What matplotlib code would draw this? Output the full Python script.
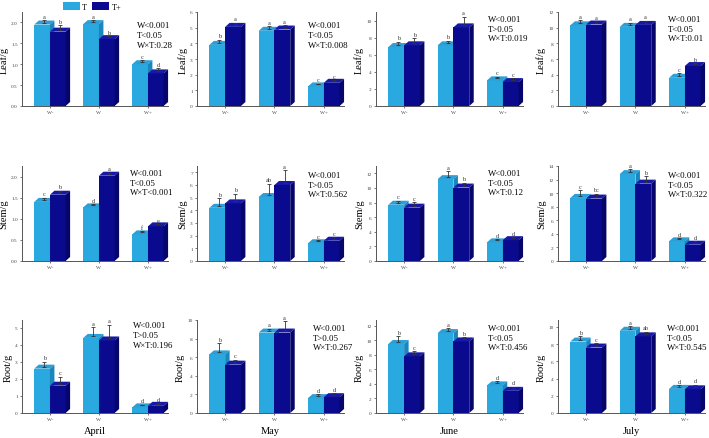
import matplotlib
matplotlib.use("Agg")
import matplotlib.pyplot as plt
from matplotlib.patches import Polygon, Patch

plt.rcParams['font.family'] = ['Liberation Serif', 'DejaVu Serif']

months = ["April", "May", "June", "July"]
organs = ["Leaf/g", "Stem/g", "Root/g"]
water = ["W-", "W", "W+"]

# means per month, order W-, W, W+  (T = light, T+ = dark)
leaf_t = [[1.95, 1.96, 1.0], [3.9, 4.8, 1.25], [6.9, 7.1, 3.0], [10.3, 10.1, 3.6]]
leaf_tp = [[1.78, 1.6, 0.78], [5.05, 4.88, 1.48], [7.1, 9.2, 2.8], [10.4, 10.35, 5.1]]
stem_t = [[1.4, 1.27, 0.63], [4.2, 5.05, 1.4], [7.7, 11.2, 2.55], [9.3, 12.8, 2.9]]
stem_tp = [[1.57, 2.02, 0.82], [4.55, 6.0, 1.6], [7.3, 10.05, 2.85], [9.2, 11.4, 2.4]]
root_t = [[2.6, 4.4, 0.33], [6.3, 8.65, 1.6], [9.5, 11.0, 3.8], [8.3, 9.55, 2.8]]
root_tp = [[1.6, 4.25, 0.42], [5.2, 8.65, 1.7], [7.8, 9.85, 3.05], [7.6, 8.9, 2.75]]

# standard errors
leaf_t_err = [[0.05, 0.05, 0.05], [0.2, 0.15, 0.05], [0.4, 0.3, 0.2], [0.4, 0.3, 0.3]]
leaf_tp_err = [[0.1, 0.02, 0.08], [0.15, 0.15, 0.05], [0.6, 1.0, 0.2], [0.2, 0.3, 0.1]]
stem_t_err = [[0.05, 0.03, 0.03], [0.6, 0.9, 0.1], [0.3, 0.8, 0.2], [0.8, 0.4, 0.2]]
stem_tp_err = [[0.05, 0.02, 0.01], [0.6, 1.0, 0.1], [0.5, 0.4, 0.1], [0.4, 0.8, 0.2]]
root_t_err = [[0.3, 0.5, 0.05], [1.0, 0.2, 0.2], [0.8, 0.4, 0.3], [0.4, 0.3, 0.2]]
root_tp_err = [[0.4, 0.8, 0.05], [0.3, 1.0, 0.2], [0.4, 0.3, 0.3], [0.3, 0.3, 0.3]]

# significance letters: [W- T, W- T+, W T, W T+, W+ T, W+ T+]
leaf_letters = [["a", "b", "a", "b", "c", "d"], ["b", "a", "a", "a", "c", "c"],
                ["b", "b", "b", "a", "c", "c"], ["a", "a", "a", "a", "c", "b"]]
stem_letters = [["c", "b", "d", "a", "f", "e"], ["b", "b", "ab", "a", "c", "c"],
                ["c", "c", "a", "b", "d", "d"], ["c", "bc", "a", "b", "d", "d"]]
root_letters = [["b", "c", "a", "a", "d", "d"], ["b", "c", "a", "a", "d", "d"],
                ["b", "c", "a", "b", "d", "d"], ["b", "c", "a", "ab", "d", "d"]]

leaf_stats = ["W<0.001\nT<0.05\nW×T:0.28", "W<0.001\nT<0.05\nW×T:0.008",
              "W<0.001\nT>0.05\nW×T:0.019", "W<0.001\nT<0.05\nW×T:0.01"]
stem_stats = ["W<0.001\nT<0.05\nW×T<0.001", "W<0.001\nT>0.05\nW×T:0.562",
              "W<0.001\nT<0.05\nW×T:0.12", "W<0.001\nT<0.05\nW×T:0.322"]
root_stats = ["W<0.001\nT>0.05\nW×T:0.196", "W<0.001\nT>0.05\nW×T:0.267",
              "W<0.001\nT<0.05\nW×T:0.456", "W<0.001\nT<0.05\nW×T:0.545"]

# axis ranges
ylims = [[2.25, 6, 11, 12], [2.25, 7.5, 13, 14], [5.45, 10, 12.8, 10.8]]
ysteps = [[0.5, 1, 2, 2], [0.5, 1, 2, 2], [1, 2, 2, 2]]

means_t = [leaf_t, stem_t, root_t]
means_tp = [leaf_tp, stem_tp, root_tp]
errs_t = [leaf_t_err, stem_t_err, root_t_err]
errs_tp = [leaf_tp_err, stem_tp_err, root_tp_err]
letters = [leaf_letters, stem_letters, root_letters]
stats = [leaf_stats, stem_stats, root_stats]

# colours: front, top, side
LIGHT = ("#29a9e0", "#2c9fd6", "#1b86bd")
DARK = ("#0a0a8e", "#1818a6", "#05056a")

# layout in pixels (figure 709 x 439)
col_left = [22, 197, 376, 558]
col_width = [146, 147, 147, 147]
row_top = [13, 167, 321]
row_bottom = [107, 262, 414]
stat_y = [[0.90, 0.90, 0.97, 0.97], [0.97, 0.95, 0.97, 0.95], [0.99, 0.96, 0.96, 0.96]]
stat_x = [[0.79, 0.755, 0.76, 0.75], [0.74, 0.755, 0.76, 0.75], [0.76, 0.79, 0.76, 0.74]]

W, H = 709, 439
fig = plt.figure(figsize=(W / 100, H / 100), dpi=100)

BW = 0.32     # bar width (data units)
DEPTH = 4.5   # 3d depth in pixels


def draw_bar(ax, x0, h, ddx, ddy, cols):
    front = Polygon([(x0, 0), (x0, h), (x0 + BW, h), (x0 + BW, 0)],
                    closed=True, fc=cols[0], ec="none", clip_on=False)
    top = Polygon([(x0, h), (x0 + ddx, h + ddy), (x0 + BW + ddx, h + ddy), (x0 + BW, h)],
                  closed=True, fc=cols[1], ec="none", clip_on=False)
    side = Polygon([(x0 + BW, 0), (x0 + BW + ddx, ddy), (x0 + BW + ddx, h + ddy), (x0 + BW, h)],
                   closed=True, fc=cols[2], ec="none", clip_on=False)
    for p in (front, top, side):
        ax.add_patch(p)


for r in range(3):
    for c in range(4):
        left = col_left[c] / W
        bottom = 1 - row_bottom[r] / H
        height = (row_bottom[r] - row_top[r]) / H
        ax = fig.add_axes([left, bottom, col_width[c] / W, height])
        ax.set_xlim(-0.57, 2.41)
        ax.set_ylim(0, ylims[r][c])

        # pixel -> data conversion for the 3d offsets
        ddx = DEPTH * 2.98 / col_width[c]
        ddy = (DEPTH - 0.5) * ylims[r][c] / (row_bottom[r] - row_top[r])

        for i in range(3):
            vals = [means_t[r][c][i], means_tp[r][c][i]]
            errs = [errs_t[r][c][i], errs_tp[r][c][i]]
            for j, cols in enumerate([LIGHT, DARK]):
                x0 = i - BW + j * BW
                draw_bar(ax, x0, vals[j], ddx, ddy, cols)
                xe = x0 + BW / 2 + ddx / 2
                ye = vals[j] + ddy / 2
                ax.errorbar([xe], [ye], yerr=[[0], [errs[j]]], fmt="none",
                            ecolor="#333333", elinewidth=0.6, capsize=1.2,
                            capthick=0.6, clip_on=False, zorder=5)
                ax.annotate(letters[r][c][2 * i + j], (xe, ye + errs[j]),
                            xytext=(0, 1), textcoords="offset points",
                            ha="center", va="bottom", fontsize=4.5, color="#333333")

        ax.spines["top"].set_visible(False)
        ax.spines["right"].set_visible(False)
        for s in ("left", "bottom"):
            ax.spines[s].set_color("#555555")
            ax.spines[s].set_linewidth(0.7)
        step = ysteps[r][c]
        n = int(ylims[r][c] / step + 1e-9)
        ticks = [k * step for k in range(n + 1)]
        ax.set_yticks(ticks)
        if step < 1:
            ax.set_yticklabels([f"{t:.1f}" for t in ticks])
        ax.set_xticks(range(3))
        ax.set_xticklabels(water)
        ax.tick_params(labelsize=3.8, length=1.5, width=0.5, pad=1.5, colors="#444444")
        ax.set_ylabel(organs[r], fontsize=7.5, labelpad=2)
        ax.text(stat_x[r][c], stat_y[r][c], stats[r][c], transform=ax.transAxes,
                ha="left", va="top", fontsize=6.3, linespacing=1.3)

        if r == 2:
            ax.text(0.5, -0.19, months[c], transform=ax.transAxes, ha="center",
                    va="center", fontsize=7.5)

handles = [Patch(fc=LIGHT[0], ec="none"), Patch(fc=DARK[0], ec="none")]
fig.legend(handles, ["T", "T+"], loc="upper center", bbox_to_anchor=(0.13, 1.01),
           ncol=2, frameon=False, fontsize=6, handlelength=2.0, handleheight=1.0,
           columnspacing=0.6, handletextpad=0.3)

fig.savefig("out.png", dpi=100)
